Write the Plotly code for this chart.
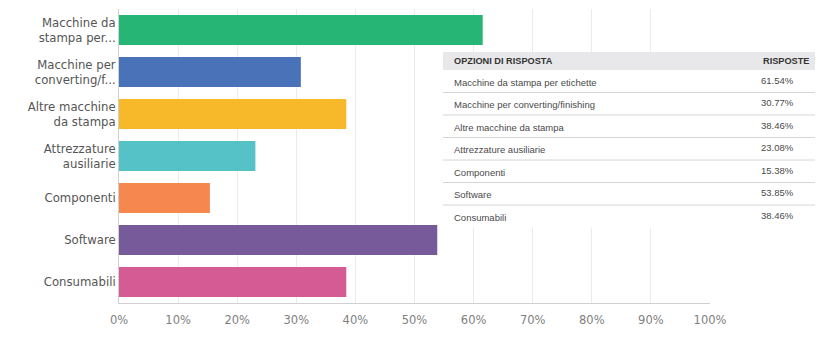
import plotly.graph_objects as go

categories = ["Macchine da stampa per etichette", "Macchine per converting/finishing",
              "Altre macchine da stampa", "Attrezzature ausiliarie", "Componenti",
              "Software", "Consumabili"]
tick_labels = ["Macchine da<br>stampa per...", "Macchine per<br>converting/f...",
               "Altre macchine<br>da stampa", "Attrezzature<br>ausiliarie", "Componenti",
               "Software", "Consumabili"]
values = [61.54, 30.77, 38.46, 23.08, 15.38, 53.85, 38.46]
colors = ["#26b574", "#4a72b8", "#f7b829", "#55c2c8", "#f5874f", "#775a99", "#d45b93"]
x_ticks = [0, 10, 20, 30, 40, 50, 60, 70, 80, 90, 100]
table_header = ["OPZIONI DI RISPOSTA", "RISPOSTE"]

W, H = 827, 337
ML, MR, MT, MB = 119, 0, 9, 34
PW = W - ML - MR
PH = H - MT - MB

def px_x(x):
    return (x - ML) / PW

def px_y(y):
    return (H - MB - y) / PH

fig = go.Figure()
fig.add_trace(go.Bar(
    x=values, y=categories, orientation="h",
    marker=dict(color=colors, line=dict(width=0)),
    hoverinfo="skip",
))

fig.update_layout(
    width=W, height=H,
    margin=dict(l=ML, r=MR, t=MT, b=MB, autoexpand=False),
    paper_bgcolor="white", plot_bgcolor="white",
    showlegend=False,
    bargap=0.286,
    xaxis=dict(domain=[0, 591 / PW], range=[0, 100], tickvals=x_ticks,
               ticktext=[f"{t}%" for t in x_ticks],
               showgrid=True, gridcolor="#ebebeb", gridwidth=1,
               zeroline=False, showline=True, linecolor="#d0d0d0", linewidth=1,
               mirror=False, ticks="", automargin=False, ticklabelstandoff=6,
               tickfont=dict(family="DejaVu Sans", size=11.5, color="#808080")),
    yaxis=dict(categoryorder="array", categoryarray=categories, autorange="reversed",
               tickvals=categories, ticktext=tick_labels,
               showline=True, linecolor="#d0d0d0", linewidth=1, ticks="",
               showgrid=False, automargin=False,
               tickfont=dict(family="DejaVu Sans", size=11.7, color="#555555")),
)

# table overlay
tx0, tx1 = 443, 815
header_top, header_bot = 52, 70
row_h = 22.5
shapes = [
    dict(type="rect", xref="paper", yref="paper",
         x0=px_x(tx0), x1=px_x(tx1),
         y0=px_y(header_bot + row_h * len(categories)), y1=px_y(header_top),
         fillcolor="white", line=dict(width=0), layer="above"),
    dict(type="rect", xref="paper", yref="paper",
         x0=px_x(tx0), x1=px_x(tx1), y0=px_y(header_bot), y1=px_y(header_top),
         fillcolor="#e8e8ea", line=dict(width=0), layer="above"),
]
annotations = [
    dict(xref="paper", yref="paper", x=px_x(452), y=px_y((header_top + header_bot) / 2),
         text=f"<b>{table_header[0]}</b>", showarrow=False, xanchor="left", yanchor="middle",
         font=dict(family="Liberation Sans", size=9.2, color="#333333")),
    dict(xref="paper", yref="paper", x=px_x(811), y=px_y((header_top + header_bot) / 2),
         text=f"<b>{table_header[1]}</b>", showarrow=False, xanchor="right", yanchor="middle",
         font=dict(family="Liberation Sans", size=9.2, color="#333333")),
]
for i, (c, v) in enumerate(zip(categories, values)):
    top = header_bot + i * row_h
    mid = top + row_h / 2
    annotations.append(dict(xref="paper", yref="paper", x=px_x(452), y=px_y(mid + 1),
                            text=c, showarrow=False, xanchor="left", yanchor="middle",
                            font=dict(family="Liberation Sans", size=9.5, color="#4a4a4a")))
    annotations.append(dict(xref="paper", yref="paper", x=px_x(759), y=px_y(mid - 1),
                            text=f"{v:.2f}%", showarrow=False, xanchor="left", yanchor="middle",
                            font=dict(family="Liberation Sans", size=9.5, color="#4a4a4a")))
    if i < len(categories) - 1:
        yb = top + row_h
        shapes.append(dict(type="line", xref="paper", yref="paper",
                           x0=px_x(tx0), x1=px_x(tx1), y0=px_y(yb), y1=px_y(yb),
                           line=dict(color="#d6d6d6", width=1), layer="above"))

fig.update_layout(shapes=shapes, annotations=annotations)
fig.write_html("out.html")
